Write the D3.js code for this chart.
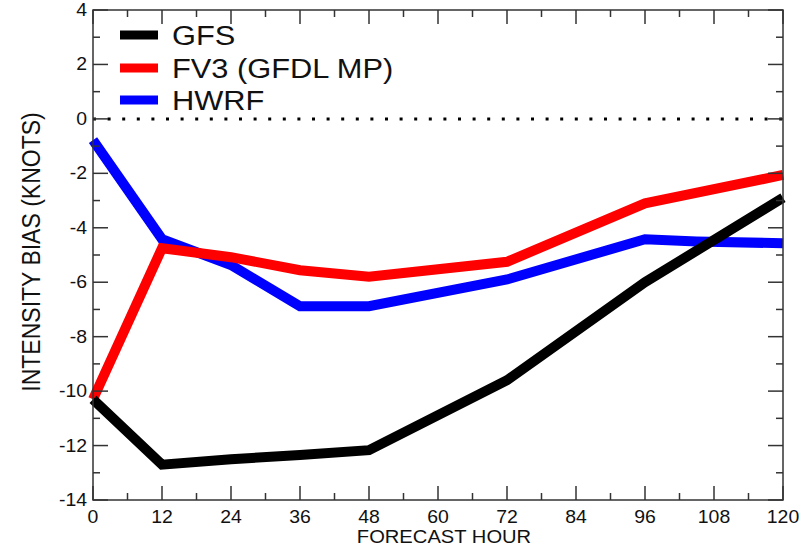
<!DOCTYPE html>
<html>
<head>
    <meta charset="utf-8">
    <title>Intensity bias</title>
    <script src="https://cdnjs.cloudflare.com/ajax/libs/d3/7.8.5/d3.min.js"></script>
    <style>
        body { margin: 0; background: #fff; }
        text { font-family: "Liberation Sans", Arial, sans-serif; fill: #111; }
    </style>
</head>
<body>
<div id="chart"></div>

<script type="text/javascript">
    // forecast hours and bias values (knots)
    var hours = [0, 12, 24, 36, 48, 72, 96, 120];
    var gfs  = [-10.3, -12.7, -12.5, -12.35, -12.17, -9.6, -6.0, -2.9];
    var fv3  = [-10.3, -4.75, -5.08, -5.56, -5.8, -5.25, -3.1, -2.06];
    var hwrfHours = [0, 12, 24, 36, 48, 72, 96, 105, 120];
    var hwrf = [-0.78, -4.42, -5.37, -6.88, -6.88, -5.9, -4.42, -4.5, -4.57];

    var seriesNames = ["GFS", "FV3 (GFDL MP)", "HWRF"];
    var seriesColors = ["#000000", "#ff0000", "#0000ff"];

    var xTicks = [0, 12, 24, 36, 48, 60, 72, 84, 96, 108, 120];
    var yTicks = [-14, -12, -10, -8, -6, -4, -2, 0, 2, 4];

    var width = 811,
        height = 548;
    var margin = {left: 93, right: 28, top: 10, bottom: 48};

    var svg = d3.select("#chart").append("svg")
        .attr("width", width)
        .attr("height", height);

    var x = d3.scaleLinear().domain([0, 120]).range([margin.left, width - margin.right]);
    var y = d3.scaleLinear().domain([-14, 4]).range([height - margin.bottom, margin.top]);

    var axisColor = "#333";

    //////////////////// zero line (dotted) ////////////////////
    svg.append("line")
        .attr("x1", x(0)).attr("x2", x(120))
        .attr("y1", y(0)).attr("y2", y(0))
        .style("stroke", "#000")
        .style("stroke-width", 3)
        .style("stroke-dasharray", "3,11.6");

    //////////////////// series lines ////////////////////
    var line = d3.line()
        .x(function(d) { return x(d[0]); })
        .y(function(d) { return y(d[1]); });

    var series = [
        d3.zip(hwrfHours, hwrf),
        d3.zip(hours, fv3),
        d3.zip(hours, gfs)
    ];
    var order = [2, 1, 0];   // draw blue first, black on top

    svg.selectAll(".series")
        .data(series)
        .enter().append("path")
        .attr("class", "series")
        .attr("d", line)
        .style("fill", "none")
        .style("stroke", function(d, i) { return seriesColors[order[i]]; })
        .style("stroke-width", 10)
        .style("stroke-linejoin", "miter")
        .style("stroke-linecap", "butt");

    //////////////////// frame and ticks ////////////////////
    var frame = svg.append("g");
    frame.append("rect")
        .attr("x", x(0)).attr("y", y(4))
        .attr("width", x(120) - x(0))
        .attr("height", y(-14) - y(4))
        .style("fill", "none")
        .style("stroke", axisColor)
        .style("stroke-width", 1.5);

    var xMinor = d3.range(0, 121, 6);
    var yMinor = d3.range(-14, 5, 1);

    function tickLen(isMajor) { return isMajor ? 14 : 7; }

    xMinor.forEach(function(h) {
        var len = tickLen(h % 12 === 0);
        frame.append("line")
            .attr("x1", x(h)).attr("x2", x(h))
            .attr("y1", y(-14)).attr("y2", y(-14) - len)
            .style("stroke", axisColor).style("stroke-width", 1.5);
        frame.append("line")
            .attr("x1", x(h)).attr("x2", x(h))
            .attr("y1", y(4)).attr("y2", y(4) + len)
            .style("stroke", axisColor).style("stroke-width", 1.5);
    });

    yMinor.forEach(function(v) {
        var len = v % 2 === 0 ? 15 : 7;
        frame.append("line")
            .attr("x1", x(0)).attr("x2", x(0) + len)
            .attr("y1", y(v)).attr("y2", y(v))
            .style("stroke", axisColor).style("stroke-width", 1.5);
        frame.append("line")
            .attr("x1", x(120)).attr("x2", x(120) - len)
            .attr("y1", y(v)).attr("y2", y(v))
            .style("stroke", axisColor).style("stroke-width", 1.5);
    });

    //////////////////// tick labels ////////////////////
    svg.selectAll(".xlab")
        .data(xTicks)
        .enter().append("text")
        .attr("class", "xlab")
        .attr("transform", function(d) { return "translate(" + x(d) + "," + (y(-14) + 23) + ") scale(1.08,1)"; })
        .attr("text-anchor", "middle")
        .style("font-size", "18px")
        .text(function(d) { return d; });

    svg.selectAll(".ylab")
        .data(yTicks)
        .enter().append("text")
        .attr("class", "ylab")
        .attr("transform", function(d) { return "translate(" + (x(0) - 6) + "," + (y(d) + 6) + ") scale(1.08,1)"; })
        .attr("text-anchor", "end")
        .style("font-size", "18px")
        .text(function(d) { return d; });

    svg.append("text")
        .attr("transform", "translate(" + ((x(0) + x(120)) / 2 + 6) + ",543) scale(1.12,1)")
        .attr("text-anchor", "middle")
        .style("font-size", "18px")
        .text("FORECAST HOUR");

    svg.append("text")
        .attr("transform", "translate(40,252) rotate(-90) scale(0.92,1)")
        .attr("text-anchor", "middle")
        .style("font-size", "25px")
        .text("INTENSITY BIAS (KNOTS)");

    //////////////////// legend ////////////////////
    var legend = svg.append("g");
    var legendY = [35, 68, 100];
    seriesNames.forEach(function(name, i) {
        legend.append("line")
            .attr("x1", 120).attr("x2", 158)
            .attr("y1", legendY[i]).attr("y2", legendY[i])
            .style("stroke", seriesColors[i])
            .style("stroke-width", 9);
        legend.append("text")
            .attr("transform", "translate(172," + (legendY[i] + 10) + ") scale(1.1,1)")
            .style("font-size", "28px")
            .text(name);
    });
</script>
</body>
</html>
